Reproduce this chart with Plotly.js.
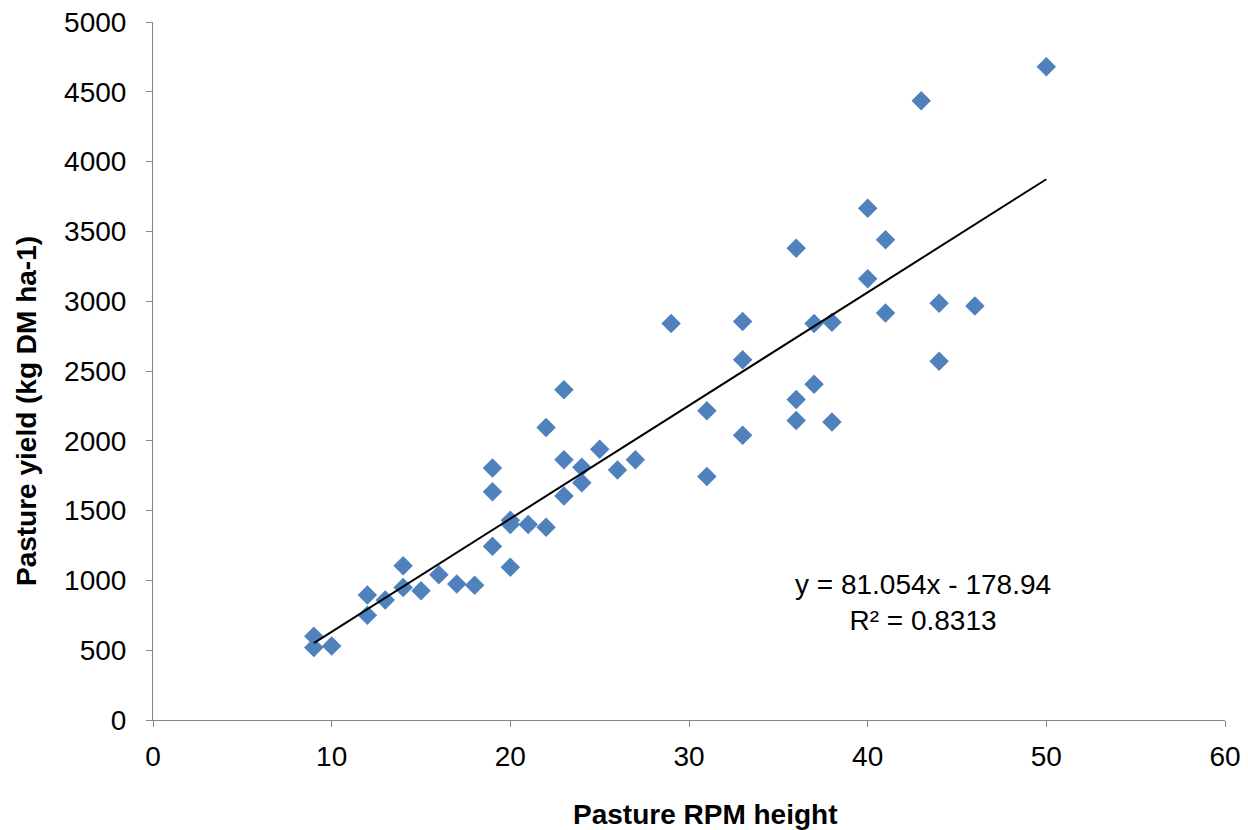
<!DOCTYPE html>
<html>
<head>
<meta charset="utf-8">
<script src="https://cdn.plot.ly/plotly-3.0.1.min.js"></script>
<style>html,body{margin:0;padding:0;background:#fff;}#chart{width:1248px;height:830px;}</style>
</head>
<body>
<div id="chart"></div>
<script>
const rpmHeight = [9, 9, 10, 12, 12, 13, 14, 14, 15, 16, 17, 18, 19, 19, 19, 20, 20, 20, 21, 22, 22, 23, 23, 23, 24, 24, 25, 26, 27, 29, 31, 31, 33, 33, 33, 36, 36, 36, 37, 37, 38, 38, 40, 40, 41, 41, 43, 44, 44, 46, 50];
const pastureYield = [600, 520, 530, 895, 750, 860, 1105, 950, 925, 1040, 975, 965, 1805, 1635, 1245, 1430, 1400, 1095, 1400, 2095, 1380, 2365, 1865, 1605, 1810, 1700, 1940, 1790, 1865, 2840, 2215, 1745, 2855, 2580, 2040, 3380, 2295, 2145, 2840, 2405, 2850, 2135, 3665, 3160, 3440, 2915, 4435, 2985, 2570, 2965, 4680];
const xTicks = [0, 10, 20, 30, 40, 50, 60];
const yTicks = [0, 500, 1000, 1500, 2000, 2500, 3000, 3500, 4000, 4500, 5000];
const trendSlope = 81.054;
const trendIntercept = -178.94;
const rSquared = 0.8313;
const xTitle = 'Pasture RPM height';
const yTitle = 'Pasture yield (kg DM ha-1)';
const trendRange = [Math.min(...rpmHeight), Math.max(...rpmHeight)];

const font = "Liberation Sans, Arial, sans-serif";
const fs = 28;

const traces = [
  {
    x: rpmHeight, y: pastureYield, type: 'scatter', mode: 'markers',
    marker: {symbol: 'diamond', size: 15, color: '#4F81BD', line: {width: 0}},
    hoverinfo: 'x+y', showlegend: false, cliponaxis: false
  },
  {
    x: trendRange, y: trendRange.map(v => trendSlope * v + trendIntercept),
    type: 'scatter', mode: 'lines', line: {color: '#000000', width: 2},
    showlegend: false, hoverinfo: 'skip'
  }
];

const layout = {
  width: 1248, height: 830,
  margin: {l: 153, r: 23, t: 22, b: 110},
  paper_bgcolor: '#ffffff', plot_bgcolor: '#ffffff',
  font: {family: font, size: fs, color: '#000000'},
  showlegend: false,
  xaxis: {
    range: [0, 60], tickvals: xTicks,
    showgrid: false, zeroline: false, showline: true, linecolor: '#868686', linewidth: 1,
    ticks: 'outside', ticklen: 6, tickcolor: '#868686', ticklabelstandoff: 5,
    tickfont: {family: font, size: fs, color: '#000000'}
  },
  yaxis: {
    range: [0, 5000], tickvals: yTicks,
    showgrid: false, zeroline: false, showline: true, linecolor: '#868686', linewidth: 1,
    ticks: 'outside', ticklen: 6, tickcolor: '#868686', ticklabelstandoff: 14,
    tickfont: {family: font, size: fs, color: '#000000'}
  },
  annotations: [
    {
      x: 43.1, y: 845, xref: 'x', yref: 'y', showarrow: false,
      text: 'y = ' + trendSlope.toFixed(3) + 'x - ' + Math.abs(trendIntercept).toFixed(2) + '<br>R² = ' + rSquared,
      font: {family: font, size: fs, color: '#000000'}, align: 'center'
    },
    {
      x: 0.5145, y: -0.136, xref: 'paper', yref: 'paper', showarrow: false,
      text: '<b>' + xTitle + '</b>', xanchor: 'center', yanchor: 'middle',
      font: {family: font, size: fs, color: '#000000'}
    },
    {
      x: -0.1175, y: 0.4427, xref: 'paper', yref: 'paper', showarrow: false,
      text: '<b>' + yTitle + '</b>', textangle: -90, xanchor: 'center', yanchor: 'middle',
      font: {family: font, size: fs, color: '#000000'}
    }
  ]
};

Plotly.newPlot('chart', traces, layout, {displayModeBar: false, staticPlot: true});
</script>
</body>
</html>
